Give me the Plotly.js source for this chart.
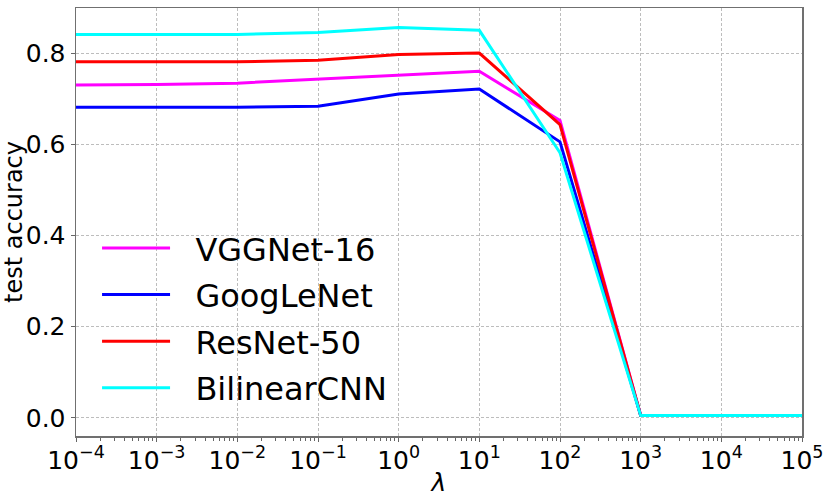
<html lang="en">
  <head>
    <meta charset="UTF-8" />
    <script src="https://cdn.plot.ly/plotly-3.0.1.min.js"></script>
    <title>test accuracy vs lambda</title>
    <style>
      body { margin: 0; background: #fff; }
    </style>
  </head>
  <body>
    <div id="chart" style="width: 831px; height: 497px;"></div>
    <script>
      // lambda values (one point per decade)
      const lambdas = [1e-4, 1e-3, 1e-2, 1e-1, 1, 10, 100, 1000, 1e4, 1e5];
      const lambdaLabels = ['10<sup>−4</sup>', '10<sup>−3</sup>', '10<sup>−2</sup>', '10<sup>−1</sup>', '10<sup>0</sup>',
                            '10<sup>1</sup>', '10<sup>2</sup>', '10<sup>3</sup>', '10<sup>4</sup>', '10<sup>5</sup>'];

      const vggnet16 = [0.731, 0.732, 0.735, 0.744, 0.752, 0.761, 0.653, 0.005, 0.005, 0.005];
      const googlenet = [0.682, 0.682, 0.682, 0.684, 0.711, 0.722, 0.606, 0.005, 0.005, 0.005];
      const resnet50 = [0.782, 0.782, 0.782, 0.785, 0.798, 0.801, 0.644, 0.005, 0.005, 0.005];
      const bilinearcnn = [0.842, 0.842, 0.842, 0.846, 0.857, 0.851, 0.582, 0.005, 0.005, 0.005];

      const yTicks = [0, 0.2, 0.4, 0.6, 0.8];
      const yLabels = ['0.0', '0.2', '0.4', '0.6', '0.8'];

      const seriesNames = ['VGGNet-16', 'GoogLeNet', 'ResNet-50', 'BilinearCNN'];
      const seriesColors = ['#ff00ff', '#0000ff', '#ff0000', '#00ffff'];
      const seriesValues = [vggnet16, googlenet, resnet50, bilinearcnn];

      const traces = seriesValues.map((vals, i) => ({
        x: lambdas,
        y: vals,
        // two no-break spaces widen the gap between legend line and label
        name: '\u00a0\u00a0' + seriesNames[i],
        legendgroup: 'g' + i,
        type: 'scatter',
        mode: 'lines',
        line: { color: seriesColors[i], width: 3 }
      }));

      // minor ticks 2..9 within each decade
      const minorVals = [];
      for (let e = -4; e < 5; e++) {
        for (let m = 2; m <= 9; m++) minorVals.push(m * Math.pow(10, e));
      }

      const font = 'DejaVu Sans';

      Plotly.newPlot('chart', traces, {
        width: 831,
        height: 497,
        margin: { l: 76, r: 29, t: 8, b: 61 },
        paper_bgcolor: '#fff',
        plot_bgcolor: '#fff',
        font: { family: font, color: '#000' },
        showlegend: true,
        legend: {
          x: 0.029,
          y: 0.503,
          xanchor: 'left',
          yanchor: 'top',
          bgcolor: 'rgba(0,0,0,0)',
          font: { size: 32, family: font },
          itemwidth: 68,
          tracegroupgap: 2
        },
        xaxis: {
          type: 'log',
          range: [-4, 5],
          tickmode: 'array',
          tickvals: lambdas,
          ticktext: lambdaLabels,
          tickfont: { size: 25 },
          ticks: 'outside',
          ticklen: 4,
          ticklabelstandoff: -3,
          tickcolor: '#666',
          showline: true,
          mirror: true,
          linecolor: '#707070',
          linewidth: 1.5,
          showgrid: true,
          gridcolor: '#bdbdbd',
          griddash: '3px,2px',
          gridwidth: 1,
          zeroline: false,
          minor: { tickvals: minorVals, ticks: 'outside', ticklen: 3, tickcolor: '#666', showgrid: false },
          title: { text: '<i>λ</i>', font: { size: 25 }, standoff: 0 }
        },
        yaxis: {
          range: [-0.04, 0.90],
          tickmode: 'array',
          tickvals: yTicks,
          ticktext: yLabels,
          tickfont: { size: 25 },
          ticks: 'outside',
          ticklen: 4,
          tickcolor: '#666',
          showline: true,
          mirror: true,
          linecolor: '#707070',
          linewidth: 1.5,
          showgrid: true,
          gridcolor: '#bdbdbd',
          griddash: '3px,2px',
          gridwidth: 1,
          zeroline: false,
          title: { text: 'test accuracy', font: { size: 24 }, standoff: 0 }
        },
        hovermode: false
      }, { displayModeBar: false, staticPlot: true });
    </script>
  </body>
</html>
